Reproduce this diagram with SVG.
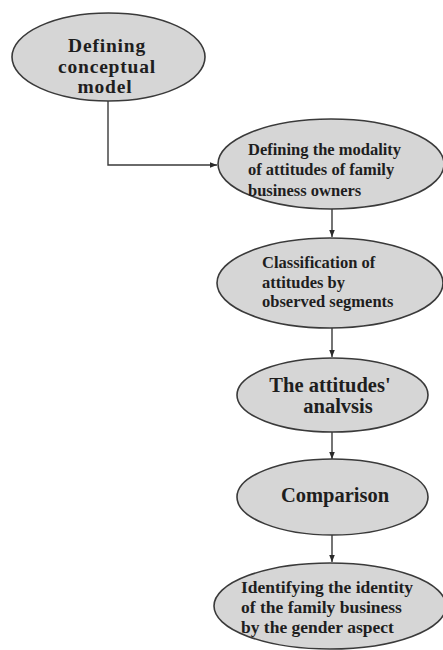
<svg xmlns="http://www.w3.org/2000/svg" width="443" height="650" viewBox="0 0 443 650">
<defs>
<style>
.node ellipse{fill:#d6d6d6;stroke:#3a3a3a;stroke-width:1.6}
.node text{font-family:"Liberation Serif","Times New Roman",serif;font-weight:bold;fill:#1e1e1e}
.t16{font-size:16.5px}
.t17{font-size:17.5px}
.t20{font-size:20.5px}
.t21{font-size:19.5px;letter-spacing:0.8px}
.conn path{fill:none;stroke:#3a3a3a;stroke-width:1.4}
</style>
<marker id="arr" viewBox="0 0 10 10" refX="10" refY="5" markerWidth="7" markerHeight="7" markerUnits="userSpaceOnUse" orient="auto">
<path d="M0,1 L10,5 L0,9 Z" fill="#2a2a2a"/>
</marker>
</defs>
<rect width="443" height="650" fill="#ffffff"/>
<g id="connectors" class="conn">
<path d="M108,100 V165 H217" marker-end="url(#arr)"/>
<path d="M332,209 V237" marker-end="url(#arr)"/>
<path d="M332,328 V357" marker-end="url(#arr)"/>
<path d="M332,432 V459" marker-end="url(#arr)"/>
<path d="M332,535 V562" marker-end="url(#arr)"/>
</g>
<g id="n1" class="node">
<ellipse cx="108.5" cy="57" rx="96.5" ry="44"/>
<text class="t21" text-anchor="middle" x="107" y="52">Defining</text>
<text class="t21" text-anchor="middle" x="107" y="72.5">conceptual</text>
<text class="t21" text-anchor="middle" x="105" y="93">model</text>
</g>
<g id="n2" class="node">
<ellipse cx="331" cy="164" rx="113" ry="45"/>
<text class="t16" x="248" y="155">Defining the modality</text>
<text class="t16" x="248" y="175">of attitudes of family</text>
<text class="t16" x="248" y="196">business owners</text>
</g>
<g id="n3" class="node">
<ellipse cx="330" cy="283" rx="113" ry="45"/>
<text class="t16" x="262" y="268">Classification of</text>
<text class="t16" x="262" y="288">attitudes by</text>
<text class="t16" x="262" y="307">observed segments</text>
</g>
<g id="n4" class="node">
<ellipse cx="332.5" cy="395" rx="95.5" ry="37"/>
<text class="t20" text-anchor="middle" x="330" y="392">The attitudes'</text>
<text class="t20" text-anchor="middle" x="338" y="413">analvsis</text>
</g>
<g id="n5" class="node">
<ellipse cx="332.5" cy="497" rx="95.5" ry="38"/>
<text class="t20" text-anchor="middle" x="335" y="502">Comparison</text>
</g>
<g id="n6" class="node">
<ellipse cx="330" cy="606" rx="116" ry="43"/>
<text class="t17" x="241" y="593">Identifying the identity</text>
<text class="t17" x="241" y="613">of the family business</text>
<text class="t17" x="241" y="633">by the gender aspect</text>
</g>
</svg>
